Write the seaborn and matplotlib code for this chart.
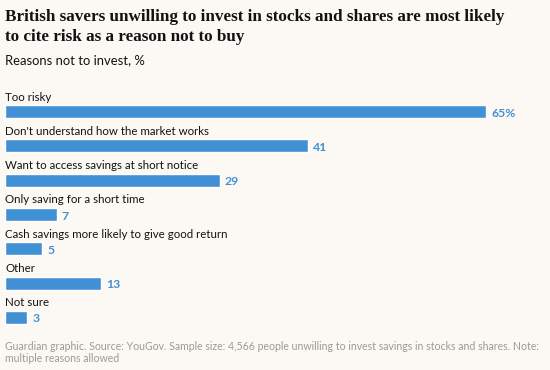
import matplotlib
matplotlib.use("Agg")

import matplotlib.pyplot as plt
import pandas as pd
import seaborn as sns

reasons = [
    "Too risky",
    "Don't understand how the market works",
    "Want to access savings at short notice",
    "Only saving for a short time",
    "Cash savings more likely to give good return",
    "Other",
    "Not sure",
]
shares = [65, 41, 29, 7, 5, 13, 3]
value_labels = ["65%", "41", "29", "7", "5", "13", "3"]

BG = "#fcf9f5"
BLUE = "#4290d4"
SANS = "Lato"

W, H = 550, 370

df = pd.DataFrame({"reason": reasons, "share": shares})

sns.set_theme(style="white")
plt.rcParams["font.family"] = [SANS, "DejaVu Sans"]

fig = plt.figure(figsize=(W / 100, H / 100), dpi=100, facecolor=BG)

# bars: first centre at y=111.5px, step 34.33px, 7.4px per unit
step = 34.33
top_px = 111.5 - step / 2
bot_px = 317.5 + step / 2
ax = fig.add_axes([5 / W, 1 - bot_px / H, 1 - 5 / W, (bot_px - top_px) / H])
ax.set_facecolor(BG)

sns.barplot(data=df, x="share", y="reason", orient="h", color=BLUE,
            saturation=1, width=13 / step, ax=ax)

ax.set_xlim(0, (W - 5) / 7.4)
ax.set_ylim(len(reasons) - 0.5, -0.5)
ax.set_xticks([])
ax.set_yticks([])
ax.set_xlabel("")
ax.set_ylabel("")
sns.despine(ax=ax, left=True, bottom=True)

half = 6.5 / step
for i, (name, v, lab) in enumerate(zip(reasons, shares, value_labels)):
    ax.text(0, i - half - 4.5 / step, name, ha="left", va="baseline",
            fontsize=8.3, color="#121212", clip_on=False)
    ax.text(v + 5 / 7.4, i + 1.5 / step, lab, ha="left", va="center",
            fontsize=8.8, fontweight="bold", color=BLUE, clip_on=False)

# title, subtitle, footer
title_lines = ["British savers unwilling to invest in stocks and shares are most likely",
               "to cite risk as a reason not to buy"]
for k, line in enumerate(title_lines):
    fig.text(5 / W, 1 - (20.7 + 20 * k) / H, line, ha="left", va="baseline",
             fontsize=12.3, fontweight="bold", color="#121212",
             family=["Liberation Serif", "DejaVu Serif"])

fig.text(5 / W, 1 - 64.3 / H, "Reasons not to invest, %", ha="left",
         va="baseline", fontsize=9.4, color="#121212")

footer = ["Guardian graphic. Source: YouGov. Sample size: 4,566 people unwilling to invest savings in stocks and shares. Note:",
          "multiple reasons allowed"]
for k, line in enumerate(footer):
    fig.text(5 / W, 1 - (350 + 12 * k) / H, line, ha="left", va="baseline",
             fontsize=7.6, color="#9a9a9a")

fig.savefig("out.png", dpi=100, facecolor=BG)
